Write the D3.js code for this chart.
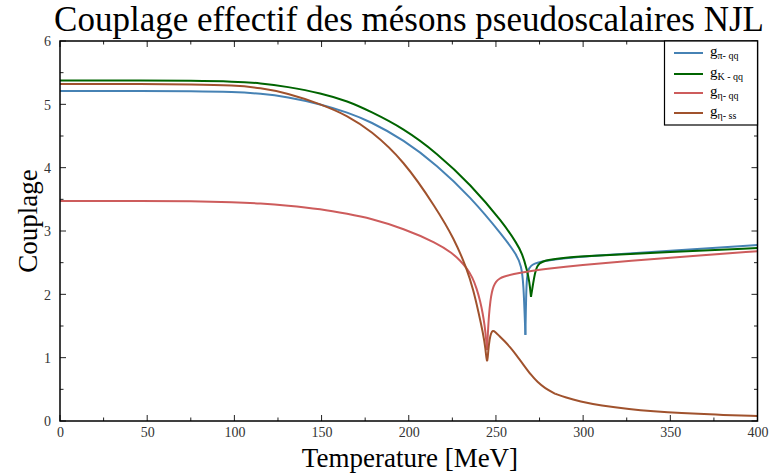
<!DOCTYPE html>
<html>
<head>
<meta charset="utf-8">
<script src="https://cdn.jsdelivr.net/npm/d3@7"></script>
<style>
  body { margin: 0; background: #fff; }
  svg { display: block; }
  text { font-family: "Liberation Serif", "DejaVu Serif", serif; }
</style>
</head>
<body>
<svg id="chart" width="776" height="476"></svg>
<script>
// ---- data (Temperature in MeV, coupling) ----
const piT = [0, 50, 75, 100, 115, 130, 150, 165, 177.9, 197, 216.2, 235.3, 254.4, 262, 264.5, 265.8, 266.9, 267.3, 267.8, 268.5, 270, 272, 276, 280, 290, 300, 350, 400];
const piG = [5.21, 5.21, 5.207, 5.195, 5.17, 5.12, 5.00, 4.87, 4.73, 4.44, 4.04, 3.54, 2.91, 2.62, 2.45, 2.20, 1.36, 2.00, 2.28, 2.39, 2.45, 2.485, 2.515, 2.535, 2.57, 2.60, 2.69, 2.78];

const kT = [0, 50, 75, 100, 115, 130, 150, 165, 177.9, 197, 216.2, 235.3, 254.4, 262, 265, 267.8, 269.2, 270.1, 271.2, 272.3, 273.5, 275, 277, 280, 290, 300, 350, 400];
const kG = [5.376, 5.376, 5.372, 5.36, 5.335, 5.28, 5.175, 5.05, 4.89, 4.62, 4.23, 3.74, 3.12, 2.80, 2.65, 2.39, 2.20, 1.96, 2.15, 2.33, 2.44, 2.49, 2.52, 2.545, 2.58, 2.60, 2.67, 2.73];

const etaqT = [0, 50, 75, 100, 115, 130, 150, 165, 177.9, 197, 216.2, 225, 229.6, 233.4, 236.5, 239, 241, 242.5, 243.5, 244.3, 244.9, 245.4, 246, 246.8, 247.7, 248.6, 250, 252, 254.4, 260, 267.8, 280, 298, 327, 360, 400];
const etaqG = [3.475, 3.475, 3.47, 3.455, 3.435, 3.405, 3.345, 3.27, 3.20, 3.04, 2.81, 2.65, 2.53, 2.41, 2.27, 2.09, 1.89, 1.69, 1.51, 1.32, 1.12, 1.40, 1.68, 1.90, 2.04, 2.13, 2.20, 2.25, 2.28, 2.32, 2.36, 2.405, 2.46, 2.53, 2.60, 2.68];

const etasT = [0, 50, 75, 100, 115, 130, 150, 165, 178, 197, 216, 226, 233.4, 237, 240, 242.5, 244, 244.9, 245.6, 246.4, 247.2, 248.2, 249.5, 252, 255, 258, 262, 266, 270, 274, 278, 284, 290, 298, 310, 327, 340, 356, 375, 400];
const etasG = [5.32, 5.32, 5.315, 5.30, 5.26, 5.18, 5.00, 4.82, 4.59, 4.12, 3.35, 2.88, 2.40, 2.07, 1.72, 1.40, 1.16, 0.86, 1.12, 1.30, 1.39, 1.43, 1.41, 1.34, 1.26, 1.17, 1.03, 0.88, 0.73, 0.61, 0.52, 0.43, 0.37, 0.31, 0.245, 0.185, 0.155, 0.125, 0.10, 0.08];

const seriesNames = ["π- qq", "K - qq", "η- qq", "η- ss"];
const seriesColors = ["#4682b4", "#006400", "#cd5c5c", "#a0522d"];
const xTicks = [0, 50, 100, 150, 200, 250, 300, 350, 400];
const yTicks = [0, 1, 2, 3, 4, 5, 6];

const series = [
  { name: seriesNames[0], color: seriesColors[0], T: piT, G: piG },
  { name: seriesNames[1], color: seriesColors[1], T: kT, G: kG },
  { name: seriesNames[2], color: seriesColors[2], T: etaqT, G: etaqG },
  { name: seriesNames[3], color: seriesColors[3], T: etasT, G: etasG }
];

// ---- layout ----
const svg = d3.select("#chart");
const L = 60, R = 757.5, T0 = 41, B = 421;
const x = d3.scaleLinear().domain([0, 400]).range([L, R]);
const y = d3.scaleLinear().domain([0, 6]).range([B, T0]);

// title
svg.append("text").attr("x", 409).attr("y", 31).attr("text-anchor", "middle")
  .attr("font-size", 35).attr("fill", "#000")
  .text("Couplage effectif des mésons pseudoscalaires NJL");

// axis labels
svg.append("text").attr("x", 410).attr("y", 467).attr("text-anchor", "middle")
  .attr("font-size", 27).attr("fill", "#000").text("Temperature [MeV]");
svg.append("text").attr("transform", "translate(37,221) rotate(-90)").attr("text-anchor", "middle")
  .attr("font-size", 27).attr("fill", "#000").text("Couplage");

// lines (clipped); each curve is drawn as two smooth pieces meeting at its sharp dip
svg.append("clipPath").attr("id", "clip").append("rect")
  .attr("x", L).attr("y", T0).attr("width", R - L).attr("height", B - T0);
const line = d3.line().x(d => x(d[0])).y(d => y(d[1])).curve(d3.curveBasis);
const g = svg.append("g").attr("clip-path", "url(#clip)");
series.forEach(s => {
  const pts = s.T.map((t, i) => [t, s.G[i]]);
  const dip = d3.minIndex(pts.filter(p => p[0] < 290), p => p[1]);
  [pts.slice(0, dip + 1), pts.slice(dip)].forEach(seg => {
    g.append("path").datum(seg).attr("d", line).attr("fill", "none")
      .attr("stroke", s.color).attr("stroke-width", 2)
      .attr("stroke-linejoin", "round").attr("stroke-linecap", "butt");
  });
});

// axes with inward ticks on all four sides
const minorX = d3.range(0, 401, 25);
const minorY = d3.range(0, 6.01, 0.5);
const tickCol = "#222";
function tickLen(isMajor) { return isMajor ? 6 : 3.5; }
const axB = svg.append("g").attr("transform", `translate(0,${B})`)
  .call(d3.axisBottom(x).tickValues(xTicks).tickSize(0).tickPadding(6).tickFormat(d3.format("d")));
const axL = svg.append("g").attr("transform", `translate(${L},0)`)
  .call(d3.axisLeft(y).tickValues(yTicks).tickSize(0).tickPadding(9).tickFormat(d3.format("d")));
[axB, axL].forEach(a => {
  a.select(".domain").remove();
  a.selectAll("text").attr("font-size", 14).attr("fill", "#333")
    .attr("font-family", '"Liberation Serif", serif');
});
axL.selectAll("text").attr("dy", "0.35em");

const tk = svg.append("g").attr("stroke", tickCol).attr("stroke-width", 1);
minorX.forEach(v => {
  const len = tickLen(v % 50 === 0);
  tk.append("line").attr("x1", x(v)).attr("x2", x(v)).attr("y1", B).attr("y2", B - len);
  tk.append("line").attr("x1", x(v)).attr("x2", x(v)).attr("y1", T0).attr("y2", T0 + len);
});
minorY.forEach(v => {
  const len = tickLen(Math.abs(v - Math.round(v)) < 1e-6);
  tk.append("line").attr("y1", y(v)).attr("y2", y(v)).attr("x1", L).attr("x2", L + len);
  tk.append("line").attr("y1", y(v)).attr("y2", y(v)).attr("x1", R).attr("x2", R - len);
});

// frame
svg.append("rect").attr("x", L).attr("y", T0).attr("width", R - L).attr("height", B - T0)
  .attr("fill", "none").attr("stroke", "#000").attr("stroke-width", 1.5);

// legend
const lg = svg.append("g");
lg.append("rect").attr("x", 664.5).attr("y", T0).attr("width", R - 664.5).attr("height", 84)
  .attr("fill", "#fff").attr("stroke", "#000").attr("stroke-width", 1.2);
const legY = [53, 74, 93, 113];
series.forEach((s, i) => {
  const yy = legY[i];
  lg.append("line").attr("x1", 674).attr("x2", 703).attr("y1", yy).attr("y2", yy)
    .attr("stroke", s.color).attr("stroke-width", 2);
  const t = lg.append("text").attr("x", 710).attr("y", yy + 3).attr("font-size", 15).attr("fill", "#000");
  t.append("tspan").text("g");
  t.append("tspan").attr("dy", 3).attr("font-size", 10).text(s.name);
});
</script>
</body>
</html>
